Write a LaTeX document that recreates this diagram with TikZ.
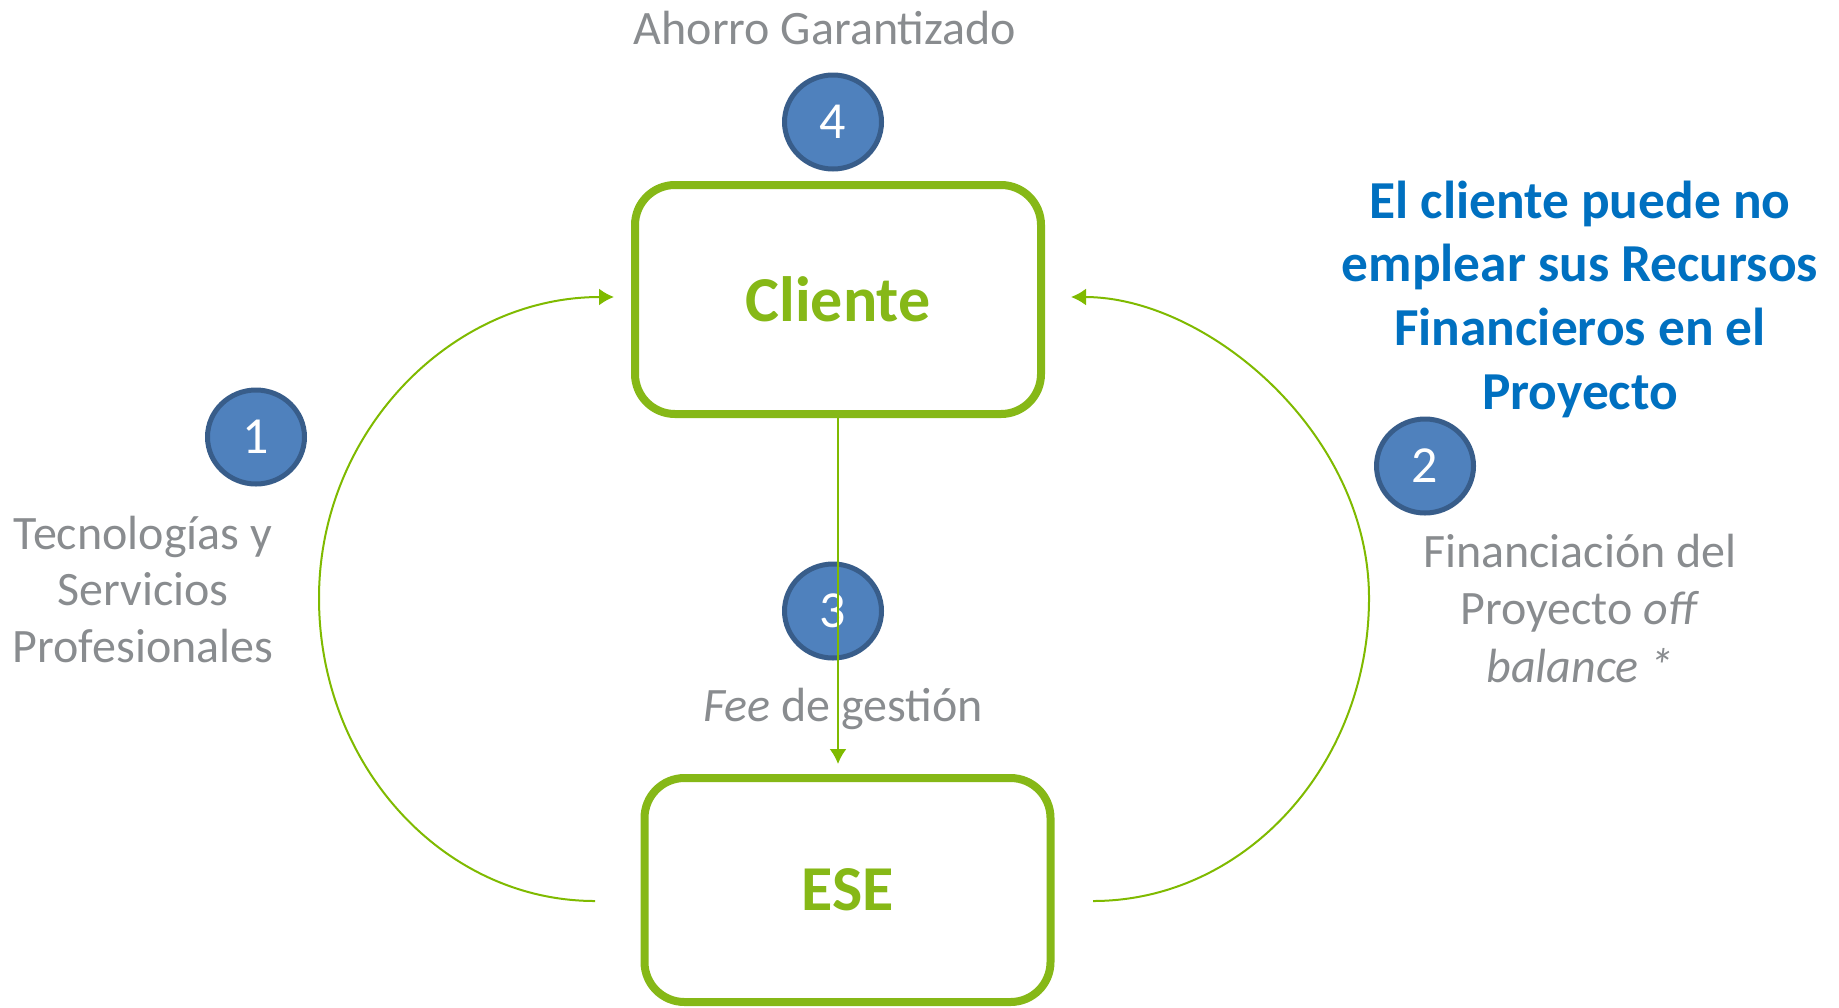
\documentclass[tikz,border=0pt]{standalone}
\usepackage{fontspec}
\setmainfont{Carlito}
\usetikzlibrary{shapes.geometric,arrows.meta}
\definecolor{verde}{RGB}{134,184,23}
\definecolor{verdeflecha}{RGB}{127,186,0}
\definecolor{azul}{RGB}{79,129,189}
\definecolor{azulborde}{RGB}{56,93,138}
\definecolor{gris}{RGB}{137,140,143}
\definecolor{azultexto}{RGB}{0,112,192}

\begin{document}
\begin{tikzpicture}[x=.5pt,y=-.5pt,
		caja/.style={draw=verde,line width=4pt,rounded corners=20pt,fill=white,inner sep=0pt,minimum width=203pt,text=verde,font=\fontsize{32}{38}\selectfont\bfseries},
		paso/.style={ellipse,draw=azulborde,line width=2.5pt,fill=azul,inner sep=0pt,minimum width=48.5pt,minimum height=47pt,text=white,font=\fontsize{26}{30}\selectfont},
		texto/.style={text=gris,align=center,anchor=base,inner sep=0pt,font=\fontsize{24}{28.2}\selectfont},
		flecha/.style={draw=verdeflecha,line width=1pt,-{Latex[length=7.5pt,width=8.5pt]}}]
		\useasboundingbox(0,0)rectangle(1839,1007);
		% cajas
		\node[caja,minimum height=114.5pt](cliente)at(838,299.5){Cliente};
		\node[caja,minimum height=112pt](ese)at(847.5,890){\raisebox{-1.5pt}{ESE}};
		% pasos
		\node[paso](n4)at(833,122){4};
		\node[paso](n1)at(256,437){1};
		\node[paso](n2)at(1425,466){2};
		\node[paso](n3)at(833,611){3};
		% textos (anchor base = ultima linea)
		\node[texto](ahorro)at(825,44){Ahorro Garantizado};
		\node[texto](tecno)at(143,662){Tecnologías y\\Servicios\\Profesionales};
		\node[texto,font=\fontsize{24}{28.75}\selectfont](financ)at(1580,682){Financiación del\\Proyecto \textit{off}\\\textit{balance *}};
		\node[texto,text=azultexto,font=\fontsize{26.7}{31.8}\selectfont\bfseries](nota)at(1580,409){El cliente puede no\\emplear sus Recursos\\Financieros en el\\Proyecto};
		\node[texto](fee)at(843,721){\textit{Fee} de gestión};
		% flechas
		\coordinate(izqA)at(595,901);
		\coordinate(izqB)at(614,297);
		\coordinate(derA)at(1093,901);
		\coordinate(derB)at(1071,297);
		\draw[flecha](izqA)..controls(443,901)and(319,765)..(319,598)..controls(319,432)and(451,297)..(izqB);
		\draw[flecha](derA)..controls(1245,901)and(1369,765)..(1369,598)..controls(1369,432)and(1206,297)..(derB);
		\draw[flecha,shorten >=5pt](cliente.south)--(cliente.south|-ese.north);
	\end{tikzpicture}
\end{document}
